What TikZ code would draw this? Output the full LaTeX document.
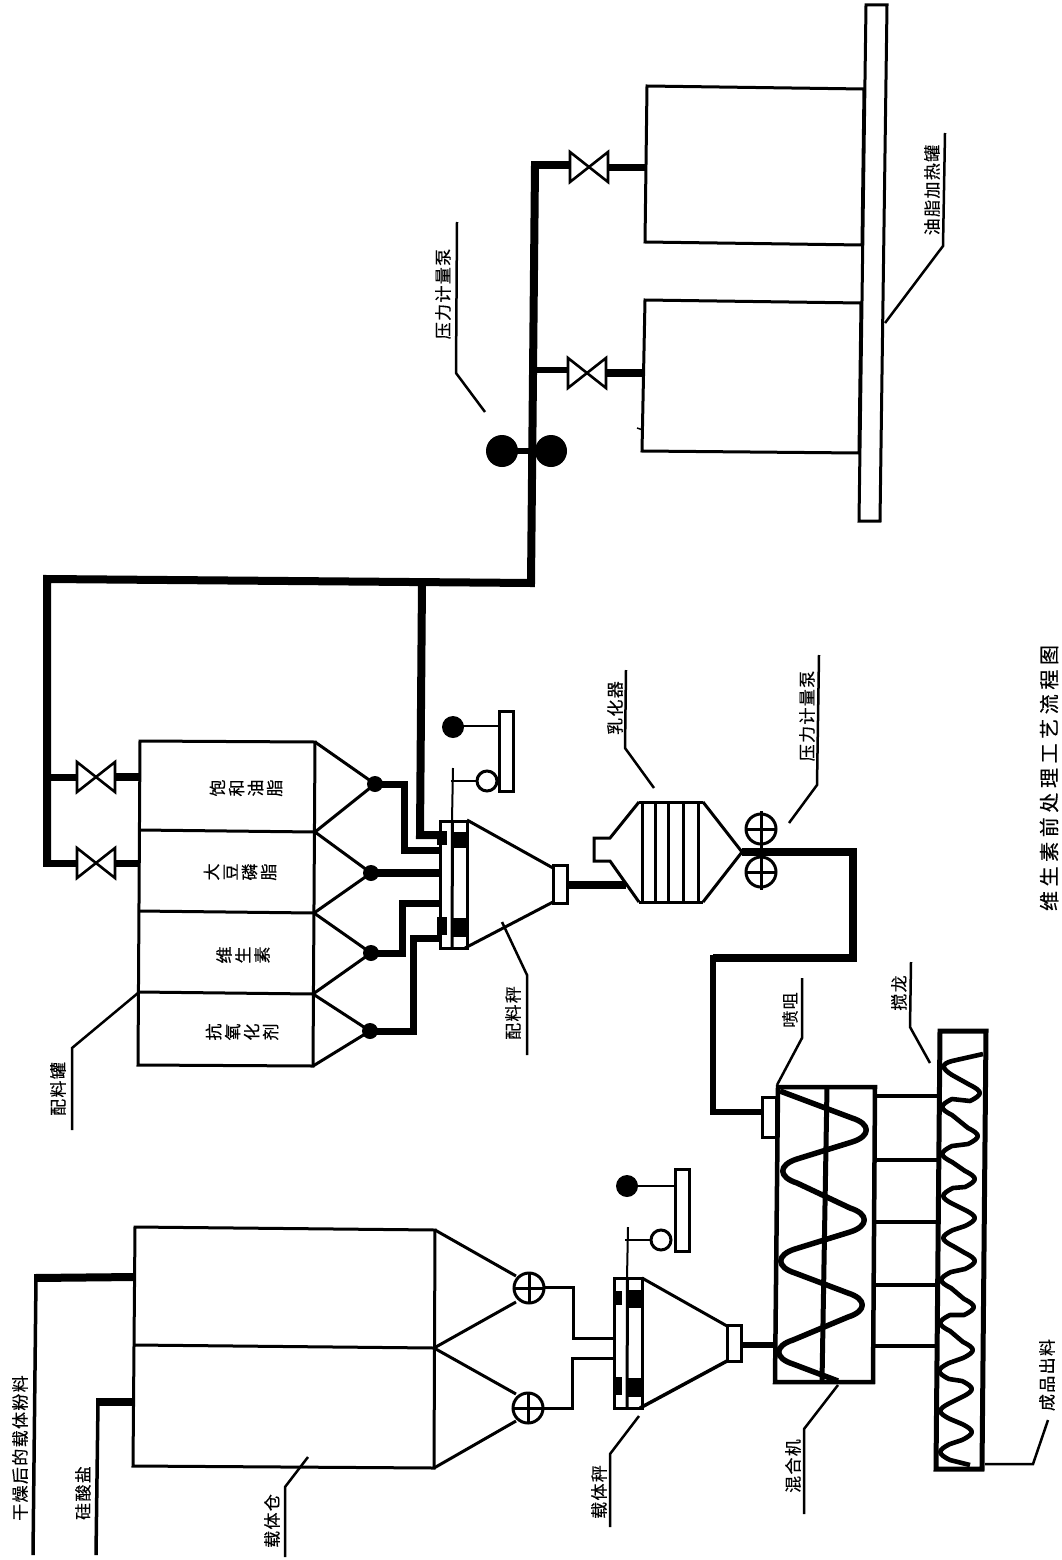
\documentclass[tikz,border=0pt]{standalone}
\usepackage{fontspec}
\newfontfamily\cjk[LetterSpace=8,FakeBold=0.35]{Noto Sans CJK SC}
\newfontfamily\cjkb[FakeBold=0.35]{Noto Sans CJK SC}
\newfontfamily\cjkc[LetterSpace=23,FakeBold=0.35]{Noto Sans CJK SC}
\tikzset{
  wall/.style={line width=3pt,line join=miter},
  wallthin/.style={line width=2.5pt,line join=miter},
  lead/.style={line width=2.5pt,line join=miter},
  thinpipe/.style={line width=3pt,line join=miter},
  midpipe/.style={line width=6pt,line join=miter},
  fatpipe/.style={line width=8pt,line join=miter},
  rod/.style={line width=2pt},
  lab/.style={font=\cjk\fontsize{17}{17}\selectfont,rotate=90,inner sep=0pt},
  tanklab/.style={font=\cjkb\fontsize{17}{19}\selectfont,rotate=90,inner sep=0pt,align=center},
  screw/.style={line width=5.5pt,line join=round,line cap=butt},
}
\newcommand{\bowvalve}[2]{%
  \draw[line width=2.6pt,line join=miter,fill=white] ({#1-19},{#2-15}) -- ({#1+19},{#2+15}) -- ({#1+19},{#2-15}) -- ({#1-19},{#2+15}) -- cycle;}
\newcommand{\crossvalve}[2]{%
  \draw[wall,fill=white] (#1,#2) circle[radius=15];
  \draw[wall] ({#1-16},#2) -- ({#1+16},#2) (#1,{#2-16}) -- (#1,{#2+16});}
% rounded peaks of the screw flights: right and left, large and small
\newcommand{\pkR}[2]{-- ({#1-14},{#2-12}) .. controls ({#1+5},{#2-6}) and ({#1+5},{#2+6}) .. ({#1-14},{#2+12}) }
\newcommand{\pkL}[2]{-- ({#1+14},{#2-12}) .. controls ({#1-5},{#2-6}) and ({#1-5},{#2+6}) .. ({#1+14},{#2+12}) }
\newcommand{\spR}[2]{-- ({#1-10},{#2-8}) .. controls ({#1+3},{#2-1.5}) and ({#1+3},{#2+1.5}) .. ({#1-10},{#2+8}) }
\newcommand{\spL}[2]{-- ({#1+10},{#2-8}) .. controls ({#1-3},{#2-1.5}) and ({#1-3},{#2+1.5}) .. ({#1+10},{#2+8}) }
\begin{document}
\begin{tikzpicture}[x=1pt,y=-1pt]
\useasboundingbox (0,0) rectangle (1061,1560);
\fill[white] (0,0) rectangle (1061,1560);

% ---- carrier bins
\coordinate (binA) at (135,1277);
\coordinate (binB) at (135,1402);
\draw[wall] (135,1227) -- (435,1230) -- (434,1468) -- (133,1466) -- cycle;
\draw[wall] (135,1345) -- (434,1348);
\draw[wall] (435,1230) -- (516,1276);
\draw[wall] (434,1348) -- (516,1302);
\draw[wall] (434,1348) -- (516,1394);
\draw[wall] (434,1468) -- (516,1421);
\crossvalve{529}{1288}
\crossvalve{528}{1408}
\coordinate (dryA) at (33,1555);
\coordinate (dryB) at (36,1278);
\draw[line width=3.5pt] (dryA) -- (dryB);
\draw[fatpipe] (34.2,1278) -- (binA);
\coordinate (silA) at (96,1555);
\coordinate (silB) at (98,1402);
\draw[line width=3.5pt] (silA) -- (silB);
\draw[fatpipe] (96.2,1402) -- (binB);
\node[lab] (t1) at (20,1448) {干燥后的载体粉料};
\node[lab] (t2) at (83,1493) {硅酸盐};
\node[lab] (t3) at (272,1521) {载体仓};
\draw[lead] (285,1557) -- (285,1487) -- (308,1457);

% ---- carrier weigh hopper
\coordinate (csA) at (613,1338);
\coordinate (csB) at (613,1358);
\draw[thinpipe] (544,1287) -- (573,1287) -- (573,1338) -- (csA);
\draw[thinpipe] (543,1408) -- (572,1408) -- (572,1358) -- (csB);
\draw[wall] (614,1278) rectangle (642,1408);
\draw[wall] (627.5,1278) -- (627,1408);
\fill (627,1290) rectangle (642,1308);
\fill (627,1378) rectangle (642,1397);
\fill (613,1291) rectangle (622,1305);
\fill (613,1377) rectangle (622,1395);
\draw[wall] (642,1278) -- (727,1326);
\draw[line width=3.5pt] (640,1408) -- (727,1361);
\draw[wall] (727,1325) rectangle (741,1361);
\node[lab] (t4) at (599,1492) {载体秤};
\draw[lead] (639,1416) -- (610,1454) -- (610,1527);
% scale
\fill (627,1186) circle[radius=11];
\draw[rod] (627,1186) -- (675,1186);
\draw[wall] (675,1169) rectangle (689,1251);
\draw[wall] (661,1240) circle[radius=10];
\draw[rod] (625,1240) -- (651,1240);
\draw[rod] (628,1227) -- (627,1278);

% ---- mixer
\draw[line width=4.5pt] (778,1087) -- (875,1087) -- (873,1382) -- (775,1382) -- cycle;
\draw[line width=5pt] (827,1087) -- (822,1382);
\draw[line width=6pt] (741,1345) -- (776,1345);
\draw[screw] (780,1091) \pkR{866}{1130} \pkL{783}{1171} \pkR{864}{1220} \pkL{781}{1261} \pkR{862}{1305} \pkL{779}{1352} -- (838,1381);
\foreach \yy in {1096,1160,1222,1285,1346}{\draw[line width=4pt] (875,\yy) -- (937,\yy);}
\draw[line width=5pt,line join=miter] (940,1031) -- (986,1031) -- (982,1469) -- (936,1469) -- cycle;
\draw[screw,line width=4.6pt] (983,1054) -- (952,1061) .. controls (941,1064) and (941,1068) .. (952,1075) \spR{980}{1093} \spL{942}{1107} \spR{978}{1136} \spL{942}{1154} \spR{975}{1179} \spL{943}{1196} \spR{975}{1218} \spL{943}{1238} \spR{975}{1261} \spL{941}{1280} \spR{974}{1307} \spL{940}{1323} \spR{973}{1350} \spL{939}{1371} \spR{972}{1389} \spL{940}{1411} \spR{972}{1432} \spL{940}{1452} -- (970,1465);
\node[lab] (t5) at (793,1466) {混合机};
\draw[lead] (838,1385) -- (804,1429) -- (804,1514);
\node[lab] (t6) at (1047,1375) {成品出料};
\draw[lead] (985,1464) -- (1033,1464) -- (1048,1420);
\node[lab] (t7) at (790,1010) {喷咀};
\draw[lead] (777,1085) -- (802,1038) -- (802,978);
\node[lab] (t8) at (899,993) {搅龙};
\draw[lead] (930,1063) -- (910,1027) -- (911,962);

% nozzle and feed pipe
\draw[wall] (762,1097) rectangle (776,1137);
\coordinate (pA) at (742,852);
\coordinate (pB) at (853,852);
\coordinate (pC) at (853,958);
\coordinate (pD) at (713,958);
\coordinate (pE) at (713,1112);
\coordinate (pF) at (762,1112);
\draw[fatpipe] (pA) -- (pB) -- (pC) -- (pD);
\draw[midpipe] (713,955) -- (pE) -- (pF);

% ---- emulsifier
\draw[wall] (639,802) -- (703,802) (639,902) -- (703,902);
\foreach \xx in {642,655,668,683,698}{\draw[wall] (\xx,802) -- (\xx,902);}
\draw[wall] (639,802) -- (610,838) -- (594,838) -- (594,861) -- (610,861) -- (639,902);
\draw[wall] (703,802) -- (742,852) -- (703,902);
\crossvalve{761}{829}
\crossvalve{761}{872}
\draw[wall] (761,811) -- (761,890);
\node[lab] (t9) at (615,708) {乳化器};
\draw[lead] (626,670) -- (625,748) -- (654,788);
\node[lab] (t10) at (807,716) {压力计量泵};
\draw[lead] (819,655) -- (817,785) -- (789,823);

% ---- dosing tanks
\draw[wall] (140,741) -- (315,742) -- (313,1066) -- (138,1065) -- cycle;
\draw[wall] (140,830) -- (315,832);
\draw[wall] (139,911) -- (314,913);
\draw[wall] (139,992) -- (313,994);
\foreach \ax/\ay/\ux/\uy/\lx/\ly in {375/784/315/742/315/832,371/873/315/832/314/913,371/953/314/913/313/994,370/1031/313/994/313/1066}{
  \draw[wall] (\ux,\uy) -- (\ax,\ay) -- (\lx,\ly);
  \fill (\ax,\ay) circle[radius=8];
}
\node[tanklab] (t11) at (246,788) {饱\\和\\油\\脂};
\node[tanklab] (t12) at (240,872) {大\\豆\\磷\\脂};
\node[tanklab] (t13) at (243,955) {维\\生\\素};
\node[tanklab] (t14) at (242,1032) {抗\\氧\\化\\剂};
\node[lab] (t15) at (58,1089) {配料罐};
\draw[lead] (138,993) -- (72,1048) -- (72,1130);

% pipes to dosing hopper
\draw[midpipe,line width=7pt] (375,784) -- (404,784) -- (404,850) -- (440,850);
\draw[fatpipe] (371,873) -- (440,873);
\draw[midpipe,line width=7pt] (371,953) -- (402,953) -- (402,903) -- (440,903);
\draw[midpipe,line width=7pt] (370,1031) -- (413,1031) -- (413,938) -- (440,938);

% dosing hopper
\draw[wall] (440,821) rectangle (467,948);
\draw[wall] (452.5,821) -- (452,948);
\fill (452,832) rectangle (467,848);
\fill (452,918) rectangle (467,937);
\fill (437,831) rectangle (447,845);
\fill (437,917) rectangle (447,935);
\draw[wall] (467,820) -- (553,868);
\draw[wall] (465,948) -- (553,902);
\draw[wall] (553,865) rectangle (567,903);
\coordinate (outA) at (567,885);
\coordinate (outB) at (626,885);
\draw[fatpipe] (outA) -- (outB);
\node[lab] (t16) at (513,1013) {配料秤};
\draw[lead] (502,922) -- (527,975) -- (527,1055);
% scale
\fill (453,727) circle[radius=11];
\draw[rod] (453,726) -- (499,726);
\draw[wall] (499,711) rectangle (513,791);
\draw[wall] (487,781) circle[radius=10];
\draw[rod] (451,781) -- (477,781);
\draw[rod] (453,768) -- (452,820);

% ---- main oil pipes
\coordinate (mA) at (535,165);
\coordinate (mB) at (531,583);
\coordinate (mC) at (47,579);
\coordinate (mD) at (47,863);
\coordinate (mE) at (422,581);
\coordinate (mF) at (420,835);
\coordinate (mG) at (445,835);
\draw[fatpipe] (mA) -- (mB) -- (mC) -- (mD);
\draw[fatpipe] (mE) -- (mF) -- (mG);
\draw[midpipe,line width=7pt] (47,777) -- (78,777);
\draw[fatpipe] (115,777) -- (140,777);
\draw[midpipe,line width=7pt] (43,863) -- (78,863);
\draw[midpipe,line width=7pt] (115,863) -- (140,863);
\bowvalve{96}{777}
\bowvalve{96}{863}
\draw[fatpipe] (531,165) -- (570,165);
\draw[midpipe,line width=7pt] (608,167) -- (647,167);
\draw[midpipe] (533,370) -- (568,370);
\draw[fatpipe] (606,373) -- (644,373);
\bowvalve{589}{167}
\bowvalve{587}{373}

% metering pump
\fill (502,451) circle[radius=16];
\fill (551,451) circle[radius=16];
\draw[midpipe] (502,451) -- (551,451);
\node[lab] (t17) at (443,294) {压力计量泵};
\draw[lead] (457,222) -- (456,373) -- (485,412);

% ---- oil tanks
\draw[wall] (647,86) -- (864,89) -- (862,245) -- (645,242) -- cycle;
\draw[wall] (645,300) -- (861,303) -- (859,453) -- (642,451) -- cycle;
\draw[line width=1.5pt] (637,428) -- (643,430);
\draw[wall,fill=white] (866,5) -- (887,5) -- (880,521) -- (859,521) -- cycle;
\node[lab] (t18) at (932,190) {油脂加热罐};
\draw[lead] (945,133) -- (943,246) -- (885,323);

% caption
\node[font=\cjkc\fontsize{20}{20}\selectfont,rotate=90,inner sep=0pt] (t19) at (1049,778) {维生素前处理工艺流程图};
\end{tikzpicture}
\end{document}
